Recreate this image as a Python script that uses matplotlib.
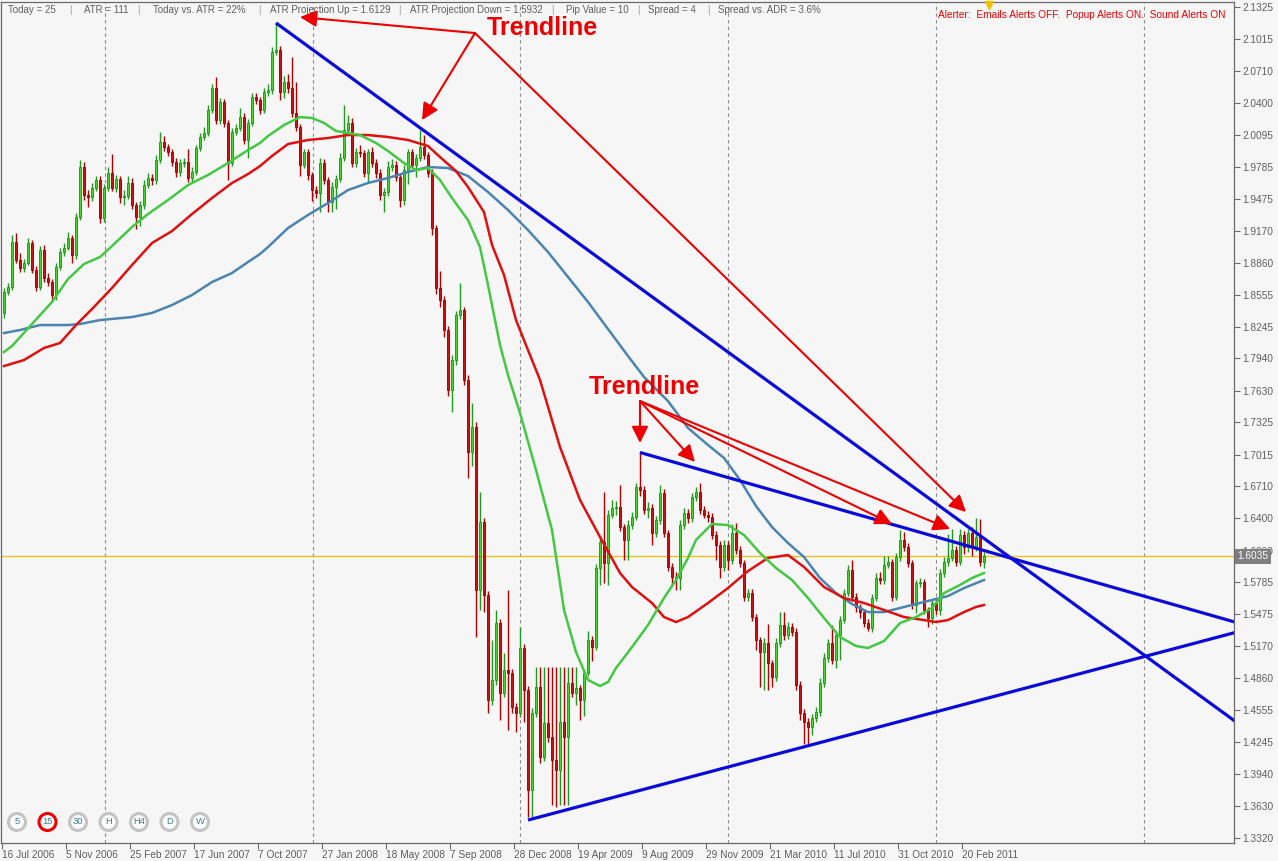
import matplotlib
matplotlib.use("Agg")
import matplotlib.pyplot as plt
from matplotlib.patches import Circle, Rectangle

# weekly GBPUSD bars, 16 Jul 2006 .. Mar 2011
first_open = 1.8378
closes = [
    1.8580, 1.8628, 1.9062, 1.8888, 1.8811, 1.8859, 1.9052, 1.8792, 1.8628, 1.8985,
    1.8715, 1.8676, 1.8551, 1.8821, 1.8965, 1.9004, 1.9100, 1.8936, 1.9302, 1.9784,
    1.9514, 1.9495, 1.9582, 1.9659, 1.9293, 1.9582, 1.9726, 1.9582, 1.9668, 1.9495,
    1.9505, 1.9630, 1.9418, 1.9302, 1.9418, 1.9610, 1.9678, 1.9659, 1.9851, 2.0025,
    1.9976, 1.9928, 1.9832, 1.9736, 1.9822, 1.9832, 1.9678, 1.9736, 1.9967, 2.0073,
    2.0111, 2.0333, 2.0545, 2.0236, 2.0410, 2.0208, 1.9822, 2.0121, 2.0159, 2.0265,
    2.0044, 2.0208, 2.0458, 2.0429, 2.0333, 2.0506, 2.0525, 2.0891, 2.0911, 2.0506,
    2.0602, 2.0545, 2.0304, 2.0169, 1.9803, 1.9928, 1.9707, 1.9562, 1.9533, 1.9822,
    1.9659, 1.9447, 1.9591, 1.9668, 1.9871, 2.0140, 2.0208, 1.9822, 1.9928, 1.9919,
    1.9726, 1.9928, 1.9822, 1.9726, 1.9514, 1.9543, 1.9784, 1.9803, 1.9688, 1.9466,
    1.9755, 1.9928, 1.9803, 1.9871, 1.9976, 1.9899, 1.9726, 1.9196, 1.8619, 1.8503,
    1.8214, 1.7636, 1.7925, 1.8359, 1.8407, 1.7733, 1.7039, 1.7280, 1.5710, 1.6365,
    1.5662, 1.4651, 1.4844, 1.5393, 1.4718, 1.4940, 1.4911, 1.4584, 1.4526, 1.5152,
    1.4747, 1.3784, 1.4526, 1.4776, 1.4102, 1.4430, 1.4295, 1.4073, 1.3977, 1.4439,
    1.4295, 1.4815, 1.4718, 1.4767, 1.4651, 1.4911, 1.5229, 1.5161, 1.5922, 1.6173,
    1.5970, 1.6433, 1.6500, 1.6510, 1.6317, 1.6192, 1.6336, 1.6413, 1.6702, 1.6673,
    1.6481, 1.6500, 1.6259, 1.6384, 1.6644, 1.6259, 1.5932, 1.5836, 1.5826, 1.6336,
    1.6452, 1.6404, 1.6606, 1.6654, 1.6481, 1.6433, 1.6413, 1.6240, 1.6144, 1.5932,
    1.6144, 1.5999, 1.6259, 1.6096, 1.5970, 1.5643, 1.5681, 1.5450, 1.5229, 1.5113,
    1.5200, 1.5007, 1.4873, 1.5200, 1.5373, 1.5277, 1.5354, 1.5306, 1.4795, 1.4526,
    1.4439, 1.4391, 1.4478, 1.4535, 1.4815, 1.5056, 1.5200, 1.5036, 1.5277, 1.5421,
    1.5681, 1.5903, 1.5643, 1.5547, 1.5498, 1.5393, 1.5344, 1.5633, 1.5826, 1.5807,
    1.5951, 1.5980, 1.5643, 1.6028, 1.6192, 1.6124, 1.5970, 1.5566, 1.5778, 1.5787,
    1.5518, 1.5441, 1.5585, 1.5518, 1.5874, 1.5980, 1.6019, 1.6096, 1.5980, 1.6240,
    1.6124, 1.6259, 1.6124, 1.6221, 1.5980, 1.6035,
]
highs = [
    1.8620, 1.8670, 1.9130, 1.9150, 1.8960, 1.8900, 1.9100, 1.9080, 1.8830, 1.9020,
    1.9030, 1.8760, 1.8710, 1.8860, 1.9000, 1.9050, 1.9160, 1.9130, 1.9340, 1.9850,
    1.9830, 1.9560, 1.9630, 1.9700, 1.9700, 1.9620, 1.9780, 1.9910, 1.9710, 1.9700,
    1.9560, 1.9700, 1.9680, 1.9450, 1.9460, 1.9660, 1.9730, 1.9720, 1.9900, 2.0120,
    2.0080, 2.0010, 1.9960, 1.9870, 1.9860, 1.9870, 1.9960, 1.9780, 2.0000, 2.0110,
    2.0170, 2.0380, 2.0580, 2.0650, 2.0450, 2.0440, 2.0240, 2.0160, 2.0200, 2.0350,
    2.0300, 2.0250, 2.0500, 2.0500, 2.0460, 2.0540, 2.0580, 2.0940, 2.1170, 2.0950,
    2.0660, 2.0680, 2.0840, 2.0600, 2.0200, 1.9960, 1.9960, 1.9740, 1.9600, 1.9870,
    1.9860, 1.9690, 1.9640, 1.9710, 1.9920, 2.0380, 2.0280, 2.0260, 1.9970, 2.0000,
    1.9950, 1.9960, 1.9980, 1.9860, 1.9760, 1.9580, 1.9840, 1.9860, 1.9840, 1.9720,
    1.9800, 1.9960, 1.9960, 1.9910, 2.0140, 2.0090, 1.9930, 1.9760, 1.9230, 1.8780,
    1.8540, 1.8250, 1.7970, 1.8400, 1.8670, 1.8440, 1.7780, 1.7510, 1.7330, 1.6650,
    1.6400, 1.5700, 1.5230, 1.5520, 1.5430, 1.5100, 1.5710, 1.4950, 1.4620, 1.5350,
    1.5190, 1.4790, 1.4570, 1.4970, 1.4970, 1.4970, 1.4970, 1.4970, 1.4970, 1.4970,
    1.4970, 1.4970, 1.4970, 1.4970, 1.4800, 1.4950, 1.5320, 1.5270, 1.5960, 1.6210,
    1.6650, 1.6480, 1.6580, 1.6570, 1.6720, 1.6350, 1.6380, 1.6460, 1.6740, 1.7040,
    1.6710, 1.6560, 1.6540, 1.6420, 1.6720, 1.6680, 1.6290, 1.5970, 1.5880, 1.6380,
    1.6500, 1.6490, 1.6640, 1.6700, 1.6740, 1.6520, 1.6470, 1.6450, 1.6280, 1.6180,
    1.6190, 1.6180, 1.6350, 1.6360, 1.6130, 1.6000, 1.5720, 1.5720, 1.5480, 1.5260,
    1.5250, 1.5380, 1.5040, 1.5250, 1.5500, 1.5500, 1.5400, 1.5390, 1.5340, 1.4830,
    1.4560, 1.4480, 1.4520, 1.4580, 1.4860, 1.5100, 1.5240, 1.5370, 1.5310, 1.5460,
    1.5720, 1.5950, 1.6000, 1.5680, 1.5580, 1.5530, 1.5430, 1.5670, 1.5870, 1.5880,
    1.6040, 1.6040, 1.6010, 1.6070, 1.6290, 1.6270, 1.6160, 1.6000, 1.5810, 1.5830,
    1.5820, 1.5550, 1.5620, 1.5620, 1.5910, 1.6030, 1.6250, 1.6300, 1.6130, 1.6300,
    1.6280, 1.6300, 1.6320, 1.6400, 1.6390, 1.6080,
]
lows = [
    1.8330, 1.8550, 1.8600, 1.8860, 1.8770, 1.8770, 1.8840, 1.8760, 1.8590, 1.8600,
    1.8680, 1.8640, 1.8490, 1.8500, 1.8790, 1.8930, 1.8980, 1.8860, 1.8900, 1.9270,
    1.9470, 1.9400, 1.9460, 1.9550, 1.9240, 1.9250, 1.9550, 1.9550, 1.9540, 1.9440,
    1.9420, 1.9480, 1.9380, 1.9190, 1.9220, 1.9380, 1.9580, 1.9610, 1.9620, 1.9820,
    1.9940, 1.9890, 1.9790, 1.9690, 1.9700, 1.9780, 1.9640, 1.9640, 1.9710, 1.9940,
    2.0040, 2.0080, 2.0300, 2.0200, 2.0200, 2.0170, 1.9660, 1.9790, 2.0090, 2.0130,
    2.0010, 1.9870, 2.0180, 2.0390, 2.0290, 2.0300, 2.0470, 2.0490, 2.0860, 2.0430,
    2.0450, 2.0500, 2.0270, 2.0130, 1.9700, 1.9770, 1.9660, 1.9460, 1.9490, 1.9350,
    1.9620, 1.9350, 1.9350, 1.9380, 1.9640, 1.9840, 2.0100, 1.9780, 1.9780, 1.9880,
    1.9690, 1.9640, 1.9780, 1.9680, 1.9470, 1.9350, 1.9500, 1.9750, 1.9650, 1.9400,
    1.9420, 1.9620, 1.9770, 1.9690, 1.9840, 1.9860, 1.9690, 1.9130, 1.8560, 1.8440,
    1.8150, 1.7580, 1.7420, 1.7880, 1.8320, 1.7680, 1.6790, 1.6900, 1.5260, 1.5520,
    1.5500, 1.4530, 1.4600, 1.4800, 1.4460, 1.4680, 1.4360, 1.4530, 1.4340, 1.4490,
    1.4440, 1.3525, 1.3525, 1.4490, 1.4040, 1.4060, 1.4250, 1.3640, 1.3620, 1.3640,
    1.3640, 1.3640, 1.4680, 1.4600, 1.4460, 1.4500, 1.4880, 1.5030, 1.5130, 1.5760,
    1.5780, 1.5760, 1.6400, 1.6430, 1.6280, 1.6000, 1.6000, 1.6300, 1.6380, 1.6620,
    1.6440, 1.6400, 1.6140, 1.6220, 1.6350, 1.6220, 1.5890, 1.5760, 1.5710, 1.5710,
    1.6300, 1.6360, 1.6370, 1.6570, 1.6440, 1.6400, 1.6370, 1.6200, 1.6000, 1.5830,
    1.5890, 1.5900, 1.5960, 1.6060, 1.5930, 1.5600, 1.5600, 1.5410, 1.5130, 1.4780,
    1.4750, 1.4750, 1.4780, 1.4830, 1.5160, 1.5230, 1.5240, 1.5270, 1.4750, 1.4460,
    1.4230, 1.4230, 1.4310, 1.4440, 1.4500, 1.4780, 1.5020, 1.5000, 1.4960, 1.5040,
    1.5390, 1.5650, 1.5600, 1.5500, 1.5440, 1.5350, 1.5320, 1.5310, 1.5600, 1.5770,
    1.5770, 1.5920, 1.5600, 1.5610, 1.5990, 1.6090, 1.5930, 1.5530, 1.5490, 1.5740,
    1.5480, 1.5350, 1.5380, 1.5480, 1.5470, 1.5840, 1.5940, 1.5990, 1.5940, 1.5950,
    1.6060, 1.6080, 1.6040, 1.6090, 1.5940, 1.5920,
]

# moving averages (bar index, price)
ma_fast_idx = [0, 2, 7, 12, 16, 20, 24, 27, 32, 36, 41, 46, 51, 56, 61, 64, 66, 70, 74, 77,
               80, 83, 86, 89, 93, 96, 100, 103, 106, 109, 112, 116, 119, 121, 124, 126, 129,
               133, 137, 140, 143, 146, 149, 151, 153, 157, 161, 165, 168, 171, 173, 177, 181,
               185, 189, 193, 197, 201, 205, 209, 213, 216, 220, 224, 228, 232, 235, 239, 242, 245]
ma_fast = [1.8002, 1.8060, 1.8272, 1.8484, 1.8705, 1.8850, 1.8917, 1.9023, 1.9206, 1.9331,
           1.9466, 1.9610, 1.9707, 1.9822, 1.9947, 2.0015, 2.0082, 2.0188, 2.0265, 2.0256,
           2.0208, 2.0131, 2.0111, 2.0092, 2.0015, 1.9938, 1.9822, 1.9755, 1.9774, 1.9659,
           1.9485, 1.9273, 1.9013, 1.8647, 1.8070, 1.7781, 1.7415, 1.6866, 1.6288, 1.5518,
           1.5113, 1.4844, 1.4786, 1.4824, 1.4959, 1.5161, 1.5373, 1.5633, 1.5807, 1.6019,
           1.6192, 1.6346, 1.6336, 1.6240, 1.6067, 1.5922, 1.5807, 1.5633, 1.5441, 1.5258,
           1.5171, 1.5152, 1.5219, 1.5392, 1.5450, 1.5537, 1.5681, 1.5759, 1.5826, 1.5874]

ma_mid_idx = [0, 5, 10, 14, 18, 22, 27, 32, 37, 42, 47, 52, 57, 61, 64, 67, 71, 76, 81, 86,
              91, 96, 101, 106, 109, 113, 116, 120, 122, 125, 128, 131, 134, 139, 144, 149,
              154, 157, 162, 165, 168, 171, 176, 181, 186, 191, 196, 200, 205, 210, 215, 220,
              225, 230, 233, 236, 240, 243, 245]
ma_mid = [1.7867, 1.7925, 1.8041, 1.8089, 1.8262, 1.8416, 1.8619, 1.8840, 1.9052, 1.9167,
          1.9331, 1.9485, 1.9630, 1.9716, 1.9793, 1.9890, 2.0005, 2.0044, 2.0063, 2.0092,
          2.0092, 2.0073, 2.0044, 1.9986, 1.9880, 1.9745, 1.9591, 1.9350, 1.9033, 1.8744,
          1.8310, 1.8021, 1.7733, 1.7087, 1.6577, 1.6221, 1.5874, 1.5739, 1.5585, 1.5450,
          1.5402, 1.5450, 1.5585, 1.5730, 1.5893, 1.6019, 1.6047, 1.5932, 1.5739, 1.5633,
          1.5585, 1.5518, 1.5450, 1.5421, 1.5402, 1.5421, 1.5498, 1.5547, 1.5566]

ma_slow_idx = [0, 4, 9, 16, 19, 24, 32, 37, 42, 47, 52, 57, 61, 64, 66, 71, 76, 81, 86, 91,
               96, 101, 106, 111, 116, 121, 126, 131, 136, 141, 146, 151, 156, 160, 166, 171,
               176, 180, 184, 188, 192, 196, 200, 204, 208, 212, 216, 220, 224, 228, 232, 236,
               240, 245]
ma_slow = [1.8185, 1.8214, 1.8262, 1.8262, 1.8272, 1.8310, 1.8339, 1.8378, 1.8455, 1.8551,
           1.8676, 1.8763, 1.8869, 1.8946, 1.9013, 1.9196, 1.9322, 1.9437, 1.9562, 1.9630,
           1.9678, 1.9736, 1.9784, 1.9774, 1.9697, 1.9543, 1.9370, 1.9177, 1.8965, 1.8725,
           1.8484, 1.8224, 1.7964, 1.7762, 1.7530, 1.7271, 1.7107, 1.6982, 1.6770, 1.6519,
           1.6317, 1.6163, 1.6028, 1.5826, 1.5681, 1.5576, 1.5498, 1.5498, 1.5537, 1.5576,
           1.5614, 1.5652, 1.5729, 1.5807]

# drawn trendlines: (bar index, price) start and end
trend_idx = [(68, 308.25), (159, 308.25), (131, 308.25)]
trend_px = [(2.1171, 1.4433), (1.7035, 1.5396), (1.3495, 1.5306)]

# "Trendline" labels: text anchor, arrow origin, arrow tips
label_pos = [(134.5, 2.1118), (160.0, 1.7661)]
arrow_src = [(117.75, 2.1074), (159.0, 1.7530)]
arrow_tips = [
    [(74.0, 2.1228), (104.5, 2.0236), (240.5, 1.6461)],
    [(159.0, 1.7126), (172.75, 1.6943), (222.0, 1.6346), (236.5, 1.6298)],
]

yticks = [2.1325, 2.1015, 2.0710, 2.0400, 2.0095, 1.9785, 1.9475, 1.9170, 1.8860, 1.8555,
          1.8245, 1.7940, 1.7630, 1.7325, 1.7015, 1.6710, 1.6400, 1.6090, 1.5785, 1.5475,
          1.5170, 1.4860, 1.4555, 1.4245, 1.3940, 1.3630, 1.3320]
date_labels = ["16 Jul 2006", "5 Nov 2006", "25 Feb 2007", "17 Jun 2007", "7 Oct 2007",
               "27 Jan 2008", "18 May 2008", "7 Sep 2008", "28 Dec 2008", "19 Apr 2009",
               "9 Aug 2009", "29 Nov 2009", "21 Mar 2010", "11 Jul 2010", "31 Oct 2010",
               "20 Feb 2011"]
bid = 1.6035

header = ["Today = 25", "ATR = 111", "Today vs. ATR = 22%", "ATR Projection Up = 1.6129",
          "ATR Projection Down = 1.5932", "Pip Value = 10", "Spread = 4",
          "Spread vs. ADR = 3.6%"]
header_x = [8, 84, 153, 270, 410, 566, 648, 718]
header_sep = [69, 137, 258, 398, 551, 637, 707]
periods = ["5", "15", "30", "H", "H4", "D", "W"]

W, H = 1278, 861
BG = "#f6f6f6"
TXT = "#5f5f5f"
RED = "#ee0000"
plt.rcParams["font.family"] = ["Liberation Sans", "DejaVu Sans"]

fig = plt.figure(figsize=(W / 100, H / 100), dpi=100, facecolor=BG)
ax = fig.add_axes([1 / W, 18 / H, 1233 / W, 841 / H], facecolor=BG)
ax.set_xlim(-0.75, 307.5)
ax.set_ylim(1.3274, 2.1373)

opens = [first_open] + closes[:-1]
x = list(range(len(closes)))
up = [c >= o for o, c in zip(opens, closes)]

# grid every 52 bars
for gx in [25.25, 77.25, 129, 181, 233, 285]:
    ax.axvline(gx, color="#8a8a8a", lw=0.8, ls=(0, (3, 3)), zorder=0)

ax.axhline(bid, color="#e8c400", lw=0.9, zorder=1)

# candles
for i in x:
    o, c = opens[i], closes[i]
    wick = "#1e9a1e" if up[i] else "#b00000"
    ax.vlines(i, lows[i], highs[i], color=wick, lw=1.0, zorder=2)
    body_lo, body_hi = min(o, c), max(o, c)
    if body_hi - body_lo < 0.0008:
        body_hi = body_lo + 0.0008
    ax.add_patch(Rectangle((i - 0.36, body_lo), 0.72, body_hi - body_lo,
                           facecolor="#45d82a" if up[i] else "#d01010",
                           edgecolor="#1e8a1e" if up[i] else "#8a0000",
                           lw=0.6, zorder=3))

ax.plot(ma_slow_idx, ma_slow, color="#4a84b0", lw=1.8, zorder=4)
ax.plot(ma_mid_idx, ma_mid, color="#e01010", lw=1.8, zorder=4)
ax.plot(ma_fast_idx, ma_fast, color="#44c844", lw=1.8, zorder=4)

for (i0, i1), (p0, p1) in zip(trend_idx, trend_px):
    ax.plot([i0, i1], [p0, p1], color="#0a0adc", lw=2.3, zorder=5, solid_capstyle="butt")

for (lx, ly), src, tips in zip(label_pos, arrow_src, arrow_tips):
    ax.text(lx, ly, "Trendline", color=RED, fontsize=18, fontweight="bold",
            ha="center", va="center", zorder=7)
    for tip in tips:
        ax.annotate("", xy=tip, xytext=src,
                    arrowprops=dict(arrowstyle="-|>", color=RED, lw=1.5,
                                    mutation_scale=25, shrinkA=0, shrinkB=0),
                    zorder=6)

# axes: price on right, dates at bottom
ax.yaxis.tick_right()
ax.set_yticks(yticks)
ax.set_yticklabels([f"{v:.4f}" for v in yticks])
ax.tick_params(axis="y", direction="out", length=4, width=0.8, color="#6a6a6a",
               labelcolor=TXT, labelsize=7.3, pad=2)
ax.set_xticks([16 * k - 0.5 for k in range(len(date_labels))])
ax.set_xticklabels(date_labels, ha="left")
ax.tick_params(axis="x", direction="out", length=4, width=0.8, color="#6a6a6a",
               labelcolor=TXT, labelsize=7.3, pad=1)
for s in ax.spines.values():
    s.set_color("#6a6a6a")
    s.set_linewidth(0.9)

# current price tag
ax.text(1.0025, bid, f"{bid:.4f}", transform=ax.get_yaxis_transform(), color="white",
        fontsize=7.3, va="center", ha="left", zorder=10, clip_on=False,
        bbox=dict(boxstyle="square,pad=0.25", facecolor="#7f7f7f", edgecolor="none"))

# info line at the top
for t, hx in zip(header, header_x):
    fig.text(hx / W, 1 - 10 / H, t, color=TXT, fontsize=7.0, va="center", ha="left")
for hx in header_sep:
    fig.text(hx / W, 1 - 10 / H, "|", color="#9a9a9a", fontsize=7.0, va="center")
fig.text(1226 / W, 1 - 15 / H,
         "Alerter:  Emails Alerts OFF.  Popup Alerts ON.  Sound Alerts ON",
         color=RED, fontsize=7.3, va="center", ha="right")
ax.plot([0.801], [0.997], transform=ax.transAxes, marker="v", ms=6,
        color="#f0c000", clip_on=False, zorder=9)

# timeframe buttons bottom-left
for k, lab in enumerate(periods):
    cx, cy = 17 + 30.5 * k, H - 822
    ring = RED if lab == "15" else "#c4c4c4"
    fig.patches.append(Circle((cx, cy), 8.5, transform=None,
                              facecolor="#fbfbfb", edgecolor=ring, lw=2.2))
    fig.text(cx / W, cy / H, lab, color="#3d7f9a", fontsize=6.8, ha="center", va="center")

fig.savefig("out.png", dpi=100, facecolor=BG)
